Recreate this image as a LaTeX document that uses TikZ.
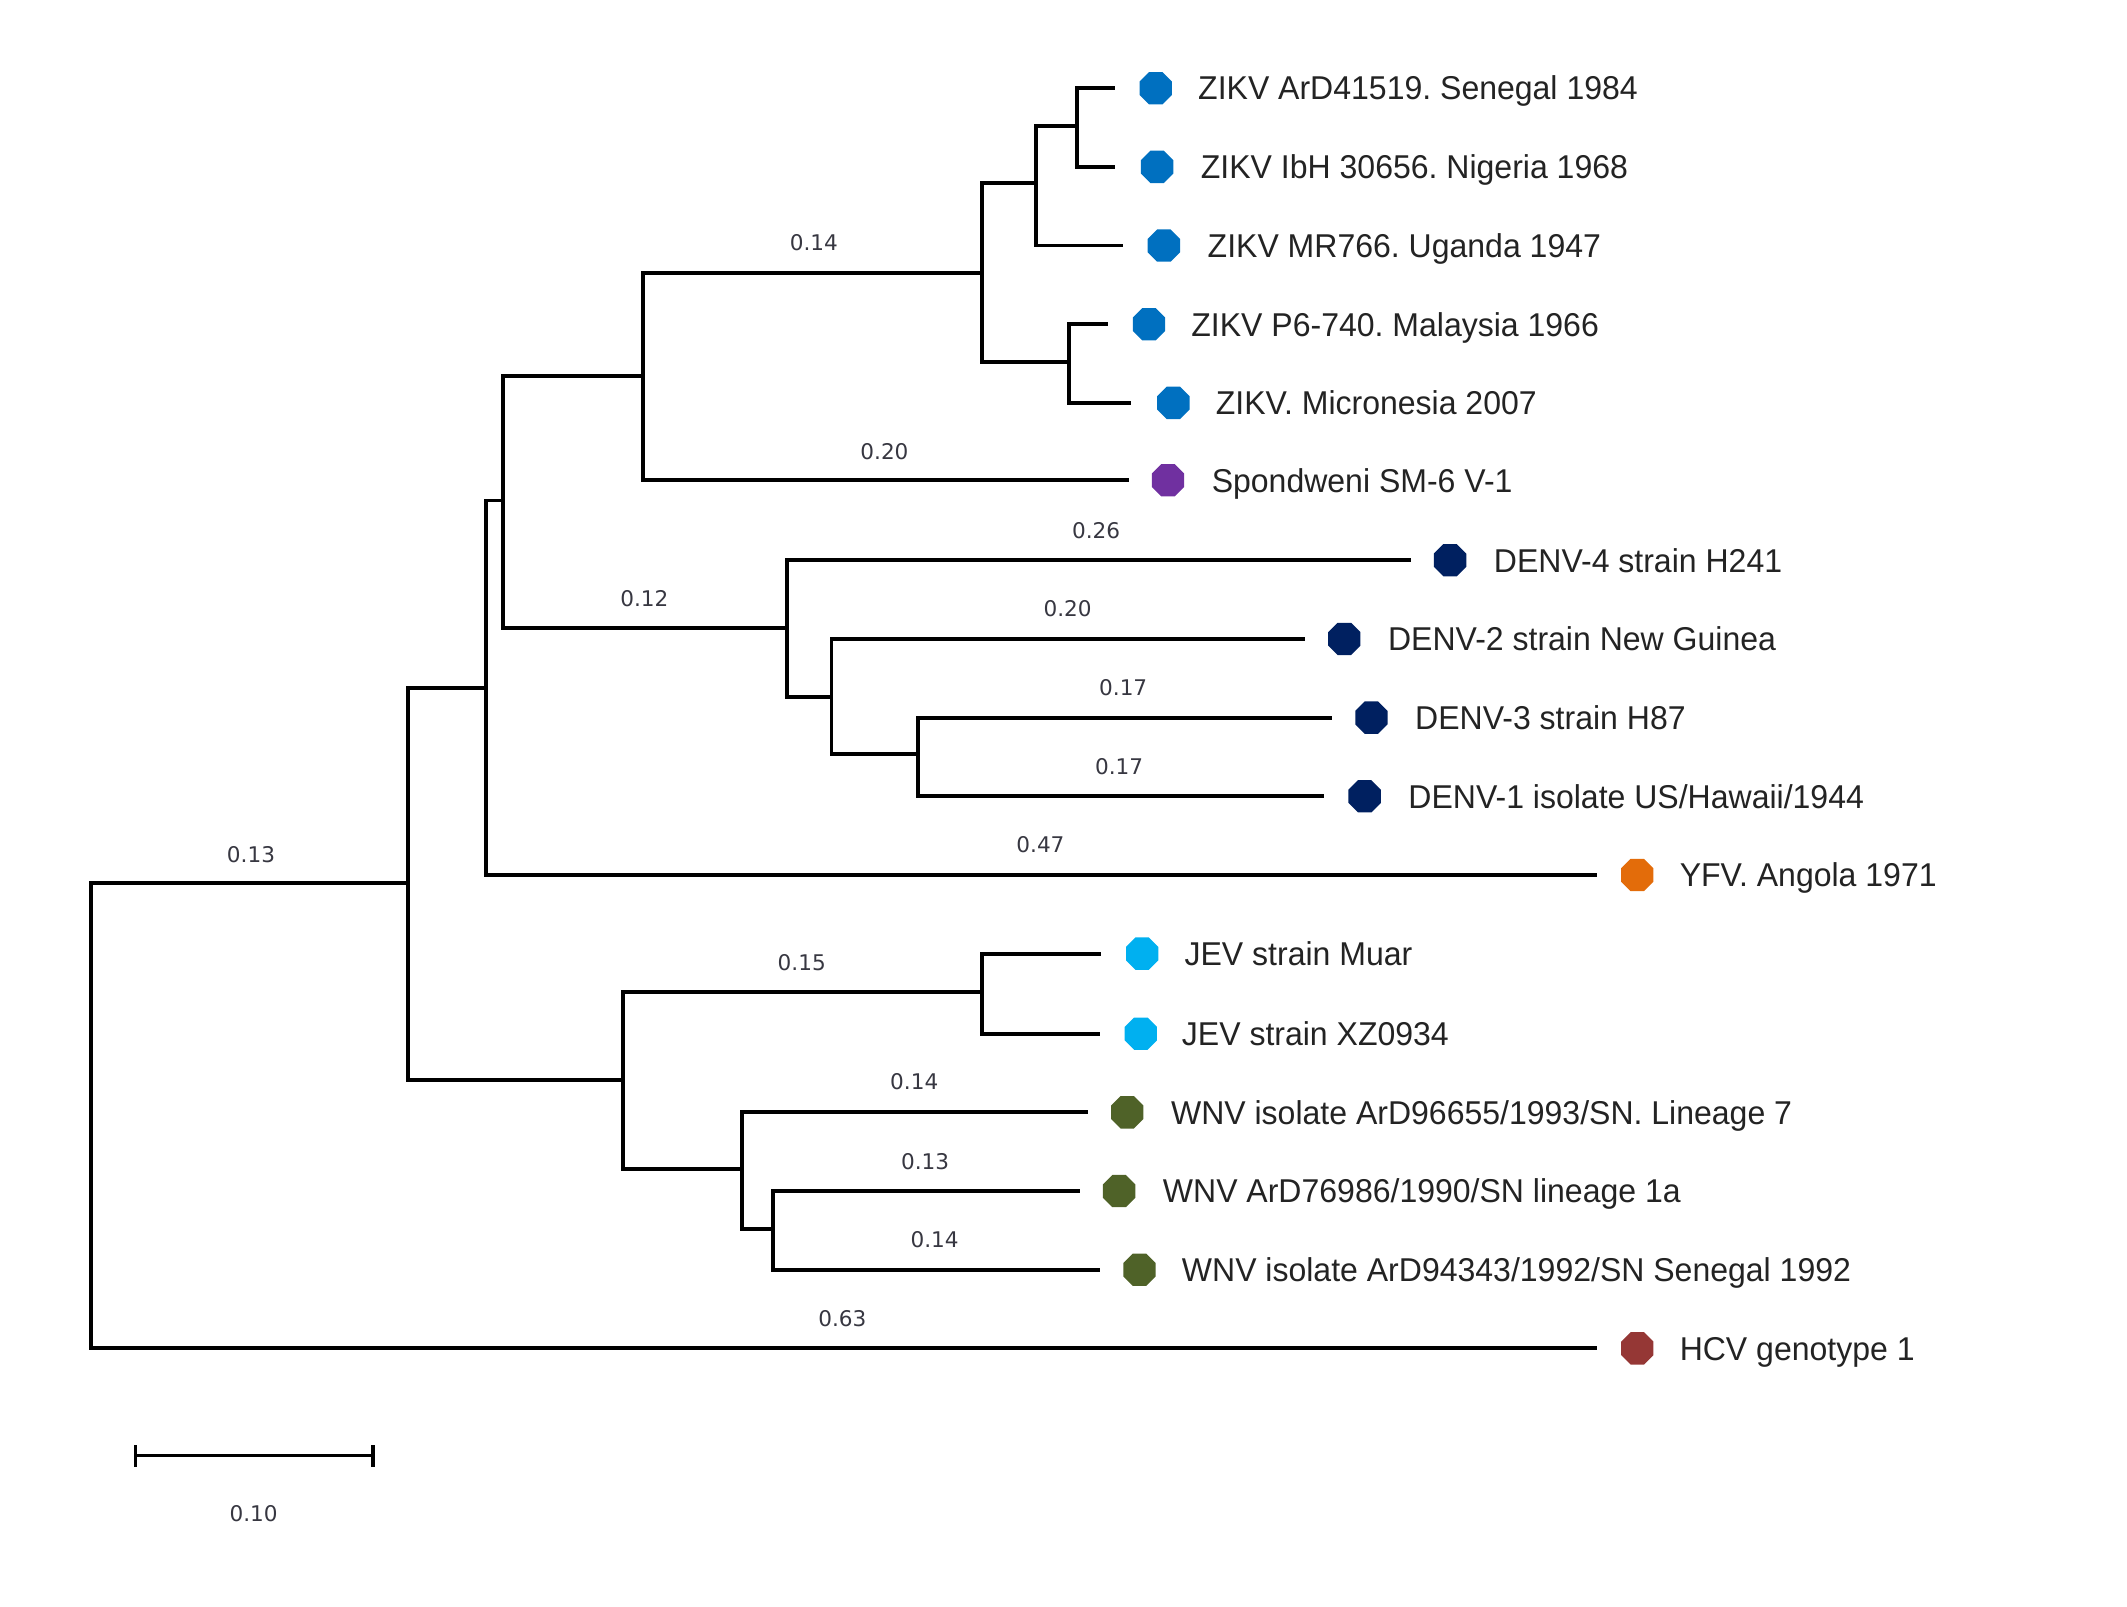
\documentclass[tikz,border=0pt]{standalone}
\usepackage{fontspec}
\setmainfont{Liberation Sans}[FakeStretch=0.97]
\newfontfamily\numfont{DejaVu Sans}
\usetikzlibrary{shapes.geometric}
\definecolor{zikv}{RGB}{0,112,192}
\definecolor{spond}{RGB}{112,48,160}
\definecolor{denv}{RGB}{0,32,96}
\definecolor{yfv}{RGB}{227,108,10}
\definecolor{jev}{RGB}{0,176,240}
\definecolor{wnv}{RGB}{79,98,40}
\definecolor{hcv}{RGB}{149,55,53}
\definecolor{txt}{RGB}{35,35,35}
\definecolor{bltxt}{RGB}{55,55,65}
\tikzset{
  branch/.style={line width=1.9pt, black},
  dot/.style={regular polygon, regular polygon sides=8, minimum size=17.5pt, inner sep=0pt, draw=none, fill=#1},
  taxon/.style={anchor=base west, inner sep=0pt, font=\frenchspacing\fontsize{16.5}{18}\selectfont, text=txt},
  blen/.style={inner sep=0pt, font=\numfont\fontsize{10.8}{12}\selectfont, text=bltxt},
}
\begin{document}
\begin{tikzpicture}[x=0.6782pt, y=-0.6782pt]
\useasboundingbox (0,0) rectangle (1568,1184);
% internal nodes
\coordinate (r)   at (67,822);
\coordinate (n1)  at (301,651);
\coordinate (n2)  at (358,507);
\coordinate (n3)  at (459,796);
\coordinate (n4)  at (371,369);
\coordinate (n5)  at (474,277);
\coordinate (n6)  at (580,463);
\coordinate (n7)  at (724,201);
\coordinate (n8)  at (764,135);
\coordinate (n9)  at (788,267);
\coordinate (n10) at (794,93);
\coordinate (n11) at (613,514);
\coordinate (n12) at (677,556);
\coordinate (n13) at (724,731);
\coordinate (n14) at (547,862);
\coordinate (n15) at (570,906);
% tips
\coordinate (t1)  at (822,65);
\coordinate (t2)  at (822,123);
\coordinate (t3)  at (828,181);
\coordinate (t4)  at (817,239);
\coordinate (t5)  at (834,297);
\coordinate (t6)  at (832,354);
\coordinate (t7)  at (1040,413);
\coordinate (t8)  at (962,471);
\coordinate (t9)  at (982,529);
\coordinate (t10) at (976,587);
\coordinate (t11) at (1177,645);
\coordinate (t12) at (812,703);
\coordinate (t13) at (811,762);
\coordinate (t14) at (802,820);
\coordinate (t15) at (796,878);
\coordinate (t16) at (811,936);
\coordinate (t17) at (1177,994);
% branches
\draw[branch] (r) |- (n1);
\draw[branch] (r) |- (t17);
\draw[branch] (n1) |- (n2);
\draw[branch] (n1) |- (n3);
\draw[branch] (n2) |- (n4);
\draw[branch] (n2) |- (t11);
\draw[branch] (n4) |- (n5);
\draw[branch] (n4) |- (n6);
\draw[branch] (n5) |- (n7);
\draw[branch] (n5) |- (t6);
\draw[branch] (n7) |- (n8);
\draw[branch] (n7) |- (n9);
\draw[branch] (n8) |- (n10);
\draw[branch] (n8) |- (t3);
\draw[branch] (n10) |- (t1);
\draw[branch] (n10) |- (t2);
\draw[branch] (n9) |- (t4);
\draw[branch] (n9) |- (t5);
\draw[branch] (n6) |- (t7);
\draw[branch] (n6) |- (n11);
\draw[branch] (n11) |- (t8);
\draw[branch] (n11) |- (n12);
\draw[branch] (n12) |- (t9);
\draw[branch] (n12) |- (t10);
\draw[branch] (n3) |- (n13);
\draw[branch] (n3) |- (n14);
\draw[branch] (n13) |- (t12);
\draw[branch] (n13) |- (t13);
\draw[branch] (n14) |- (t14);
\draw[branch] (n14) |- (n15);
\draw[branch] (n15) |- (t15);
\draw[branch] (n15) |- (t16);
% markers
\node[dot=zikv]  (d1)  at (852,65)  {};
\node[dot=zikv]  (d2)  at (853,123) {};
\node[dot=zikv]  (d3)  at (858,181) {};
\node[dot=zikv]  (d4)  at (847,239) {};
\node[dot=zikv]  (d5)  at (865,297) {};
\node[dot=spond] (d6)  at (861,354) {};
\node[dot=denv]  (d7)  at (1069,413) {};
\node[dot=denv]  (d8)  at (991,471) {};
\node[dot=denv]  (d9)  at (1011,529) {};
\node[dot=denv]  (d10) at (1006,587) {};
\node[dot=yfv]   (d11) at (1207,645) {};
\node[dot=jev]   (d12) at (842,703) {};
\node[dot=jev]   (d13) at (841,762) {};
\node[dot=wnv]   (d14) at (831,820) {};
\node[dot=wnv]   (d15) at (825,878) {};
\node[dot=wnv]   (d16) at (840,936) {};
\node[dot=hcv]   (d17) at (1207,994) {};
% taxon labels
\node[taxon] (l1)  at (883,73.7)  {ZIKV ArD41519. Senegal 1984};
\node[taxon] (l2)  at (885,131.7) {ZIKV IbH 30656. Nigeria 1968};
\node[taxon] (l3)  at (890,189.7) {ZIKV MR766. Uganda 1947};
\node[taxon] (l4)  at (878,247.7) {ZIKV P6-740. Malaysia 1966};
\node[taxon] (l5)  at (896,305.7) {ZIKV. Micronesia 2007};
\node[taxon] (l6)  at (893,362.7) {Spondweni SM-6 V-1};
\node[taxon] (l7)  at (1101,421.7) {DENV-4 strain H241};
\node[taxon] (l8)  at (1023,479.7) {DENV-2 strain New Guinea};
\node[taxon] (l9)  at (1043,537.7) {DENV-3 strain H87};
\node[taxon] (l10) at (1038,595.7) {DENV-1 isolate US/Hawaii/1944};
\node[taxon] (l11) at (1238,653.7) {YFV. Angola 1971};
\node[taxon] (l12) at (873,711.7) {JEV strain Muar};
\node[taxon] (l13) at (871,770.7) {JEV strain XZ0934};
\node[taxon] (l14) at (863,828.7) {WNV isolate ArD96655/1993/SN. Lineage 7};
\node[taxon] (l15) at (857,886.7) {WNV ArD76986/1990/SN lineage 1a};
\node[taxon] (l16) at (871,944.7) {WNV isolate ArD94343/1992/SN Senegal 1992};
\node[taxon] (l17) at (1238,1002.7) {HCV genotype 1};
% branch lengths
\node[blen] (b1)  at (185,630) {0.13};
\node[blen] (b2)  at (600,179) {0.14};
\node[blen] (b3)  at (652,333) {0.20};
\node[blen] (b4)  at (475,441) {0.12};
\node[blen] (b5)  at (808,391) {0.26};
\node[blen] (b6)  at (787,449) {0.20};
\node[blen] (b7)  at (828,507) {0.17};
\node[blen] (b8)  at (825,565) {0.17};
\node[blen] (b9)  at (767,623) {0.47};
\node[blen] (b10) at (591,710) {0.15};
\node[blen] (b11) at (674,797) {0.14};
\node[blen] (b12) at (682,856) {0.13};
\node[blen] (b13) at (689,914) {0.14};
\node[blen] (b14) at (621,972) {0.63};
% scale bar
\coordinate (s1) at (100,1073);
\coordinate (s2) at (275,1073);
\draw[branch, line width=1.6pt] (s1) -- (s2);
\draw[branch, line width=1.6pt] ([yshift=-5.5]s1) -- ([yshift=5.5]s1);
\draw[branch, line width=1.6pt] ([yshift=-5.5]s2) -- ([yshift=5.5]s2);
\node[blen] (sl) at (187,1116) {0.10};
\end{tikzpicture}
\end{document}
